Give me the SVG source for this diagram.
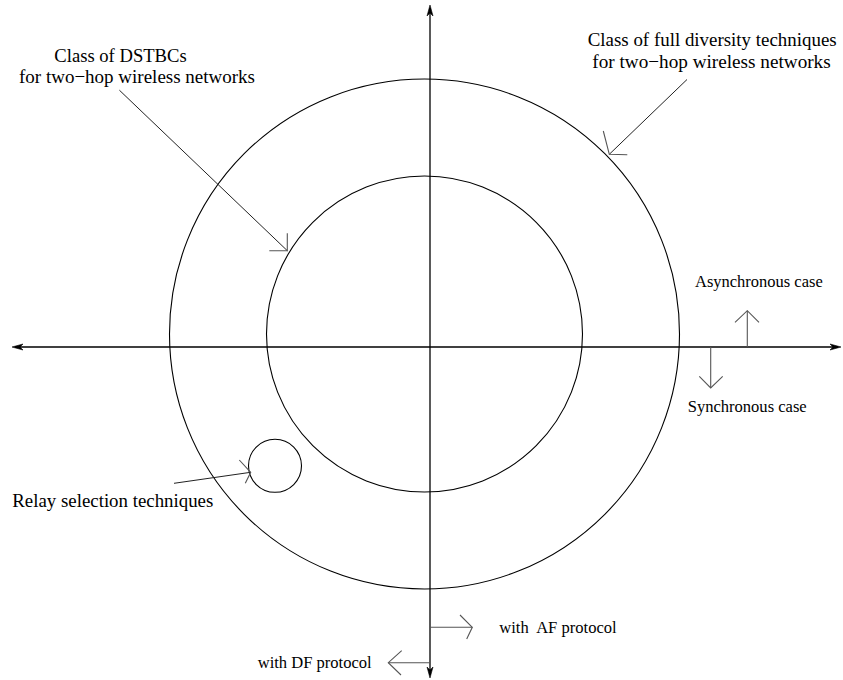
<svg xmlns="http://www.w3.org/2000/svg" width="843" height="680" viewBox="0 0 843 680">
<style>
.ring{fill:none;stroke:#000;stroke-width:1.1}
.axis{fill:none;stroke:#000;stroke-width:1.3}
.head{fill:#000;stroke:#000;stroke-width:0.6}
.lead{fill:none;stroke:#222;stroke-width:1}
.wing{fill:none;stroke:#555;stroke-width:1.1}
.big{font-family:"Liberation Serif","Times New Roman",serif;font-size:19px;fill:#000}
.small{font-family:"Liberation Serif","Times New Roman",serif;font-size:16.5px;fill:#000}
</style>
<rect width="843" height="680" fill="#fff"/>
<g id="outer-class">
  <circle class="ring" cx="424.5" cy="334" r="255"/>
  <text class="big" x="587.7" y="46" textLength="249" lengthAdjust="spacingAndGlyphs">Class of full diversity techniques</text>
  <text class="big" x="592.3" y="67.7" textLength="238.4" lengthAdjust="spacingAndGlyphs">for two−hop wireless networks</text>
</g>
<g id="dstbc-class">
  <circle class="ring" cx="424.5" cy="334" r="158"/>
  <text class="big" x="54.3" y="61.7" textLength="132.4" lengthAdjust="spacingAndGlyphs">Class of DSTBCs</text>
  <text class="big" x="19" y="83.3" textLength="236" lengthAdjust="spacingAndGlyphs">for two−hop wireless networks</text>
</g>
<g id="relay-selection">
  <circle class="ring" cx="275" cy="465.8" r="26.5"/>
  <text class="big" x="12.3" y="506.7" textLength="201" lengthAdjust="spacingAndGlyphs">Relay selection techniques</text>
</g>
<g id="async-case">
  <text class="small" x="695" y="286.7" textLength="127.7" lengthAdjust="spacingAndGlyphs">Asynchronous case</text>
</g>
<g id="sync-case">
  <text class="small" x="687.7" y="411.7" textLength="119" lengthAdjust="spacingAndGlyphs">Synchronous case</text>
</g>
<g id="af-protocol">
  <text class="small" x="499.3" y="632.7" textLength="117.4" lengthAdjust="spacingAndGlyphs" style="white-space:pre" xml:space="preserve">with  AF protocol</text>
</g>
<g id="df-protocol">
  <text class="small" x="257.7" y="668" textLength="114" lengthAdjust="spacingAndGlyphs">with DF protocol</text>
</g>
<g id="connectors">
  <!-- axes -->
  <line class="axis" x1="430" y1="8" x2="430" y2="675"/>
  <line class="axis" x1="15" y1="347" x2="838" y2="347"/>
  <path class="head" d="M430,5 L433,16 L430,13 L427,16 Z"/>
  <path class="head" d="M430,678 L433,667 L430,670 L427,667 Z"/>
  <path class="head" d="M12,347 L23,344 L20,347 L23,350 Z"/>
  <path class="head" d="M841,347 L830,344 L833,347 L830,350 Z"/>
  <!-- DSTBC leader -->
  <line class="lead" x1="119.4" y1="90.2" x2="287.3" y2="250.7"/>
  <polyline class="wing" points="287.3,233.3 287.3,250.7 269.3,250.7"/>
  <!-- full diversity leader -->
  <line class="lead" x1="687" y1="79.5" x2="609.3" y2="154.3"/>
  <polyline class="wing" points="603.3,131 609.3,154.3 627.3,154.7"/>
  <!-- relay selection leader -->
  <line class="lead" x1="174" y1="483.3" x2="250.7" y2="472.3"/>
  <polyline class="wing" points="239.3,460 250.7,472.3 245.3,483.3"/>
  <!-- asynchronous arrow -->
  <line class="wing" x1="747.3" y1="347" x2="747.3" y2="310.7"/>
  <polyline class="wing" points="735,322.3 747.3,310.7 759,322.3"/>
  <!-- synchronous arrow -->
  <line class="wing" x1="710.7" y1="347" x2="710.7" y2="388"/>
  <polyline class="wing" points="699.3,376.3 710.7,388 722.7,376.3"/>
  <!-- AF arrow -->
  <line class="wing" x1="430" y1="627.3" x2="472.3" y2="627.3"/>
  <polyline class="wing" points="460,615 472.3,627.3 466.7,639"/>
  <!-- DF arrow -->
  <line class="wing" x1="430" y1="662.7" x2="388.3" y2="662.7"/>
  <polyline class="wing" points="401.7,650.7 388.3,662.7 401,675"/>
</g>
</svg>
